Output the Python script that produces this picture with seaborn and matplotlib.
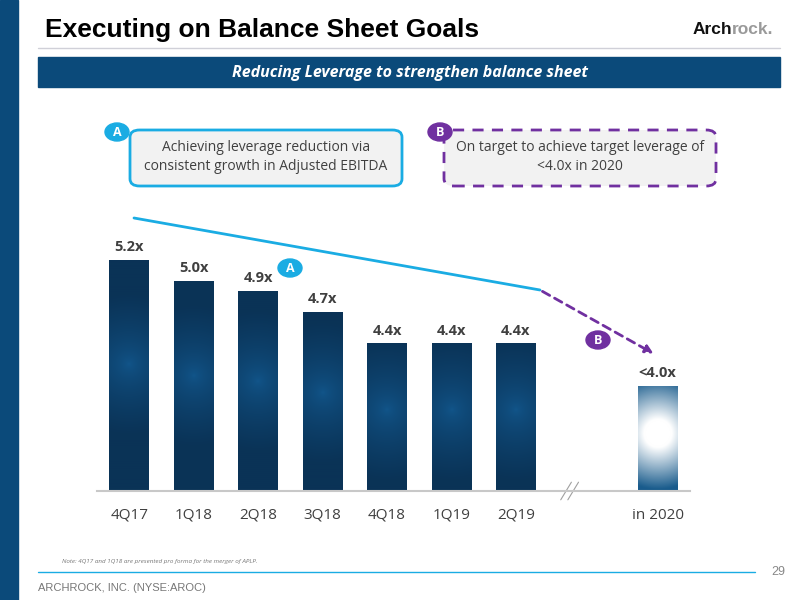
import numpy as np
import pandas as pd
import matplotlib
matplotlib.use("Agg")
import matplotlib.pyplot as plt
import seaborn as sns
from matplotlib.patches import FancyBboxPatch, Rectangle, Circle

periods = ["4Q17", "1Q18", "2Q18", "3Q18", "4Q18", "1Q19", "2Q19", "in 2020"]
leverage = [5.2, 5.0, 4.9, 4.7, 4.4, 4.4, 4.4, 4.0]
value_labels = ["5.2x", "5.0x", "4.9x", "4.7x", "4.4x", "4.4x", "4.4x", "<4.0x"]
slot = [0, 1, 2, 3, 4, 5, 6, 8.2]   # gap before the 2020 target

NAVY = "#0B4A7A"
CYAN = "#1AACE3"
PURPLE = "#7030A0"
GREY = "#404040"
Y0, Y1 = 3.0, 5.8
AX_H = 294  # axes height in px

sns.set_theme(style="white")
plt.rcParams["font.family"] = ["Open Sans", "DejaVu Sans"]

fig = plt.figure(figsize=(8, 6), dpi=100)


def px(x, y):
    return x / 800, 1 - y / 600


# slide furniture
fig.patches.append(Rectangle(px(0, 600), 18 / 800, 1, transform=fig.transFigure, color=NAVY))
fig.text(*px(45, 30), "Executing on Balance Sheet Goals", family="Liberation Sans",
         weight="bold", size=19, va="center", color="black")
fig.text(*px(732, 29), "Arch", family="Liberation Sans", weight="bold", size=12.5,
         ha="right", va="center", color="#111111")
fig.text(*px(732, 29), "rock.", family="Liberation Sans", weight="bold", size=12.5,
         ha="left", va="center", color="#9A9A9A")
fig.lines.append(plt.Line2D([38 / 800, 780 / 800], [1 - 48 / 600] * 2,
                            transform=fig.transFigure, color="#D0D0D8", lw=1))
fig.patches.append(Rectangle(px(38, 87), 742 / 800, 30 / 600, transform=fig.transFigure, color=NAVY))
fig.text(*px(410, 73), "Reducing Leverage to strengthen balance sheet", color="white",
         style="italic", weight="bold", size=11.5, ha="center", va="center")

# callout boxes
fig.patches.append(FancyBboxPatch(px(130, 186), 272 / 800, 56 / 600, transform=fig.transFigure,
                                  boxstyle="round,pad=0,rounding_size=0.012", fc="#F2F2F2",
                                  ec=CYAN, lw=2))
fig.text(*px(266, 157), "Achieving leverage reduction via\nconsistent growth in Adjusted EBITDA",
         ha="center", va="center", size=10, color=GREY, linespacing=1.4)
fig.patches.append(FancyBboxPatch(px(444, 186), 272 / 800, 56 / 600, transform=fig.transFigure,
                                  boxstyle="round,pad=0,rounding_size=0.012", fc="#F2F2F2",
                                  ec=PURPLE, lw=2, ls=(0, (4, 3))))
fig.text(*px(580, 157), "On target to achieve target leverage of\n<4.0x in 2020",
         ha="center", va="center", size=10, color=GREY, linespacing=1.4)


def badge(x, y, letter, color):
    fig.patches.append(Circle(px(x, y), 12 / 800, transform=fig.transFigure, color=color, zorder=5))
    fig.text(*px(x, y), letter, color="white", size=9, weight="bold", ha="center", va="center", zorder=6)


badge(117, 132, "A", CYAN)
badge(440, 132, "B", PURPLE)

# bar chart
ax = fig.add_axes([97 / 800, 1 - 491 / 600, 593 / 800, AX_H / 600])
df = pd.DataFrame({"slot": slot, "leverage": leverage})
sns.barplot(data=df, x="slot", y="leverage", native_scale=True, width=0.62,
            color="#0A3456", saturation=1, ax=ax)
ax.set_xticks(slot)
ax.set_xticklabels(periods, size=11, color=GREY)
ax.set_yticks([])
ax.set_xlabel("")
ax.set_ylabel("")
for s in ["top", "left", "right"]:
    ax.spines[s].set_visible(False)
ax.spines["bottom"].set_color("#C8C8C8")
ax.spines["bottom"].set_linewidth(1.5)
ax.tick_params(axis="x", length=0, pad=12)

# circular radial glow inside each bar (in pixel space)
dark = np.array([0.07, 0.34, 0.55])
edge = np.array([0.04, 0.20, 0.34])
white = np.array([1.0, 1.0, 1.0])
blue = np.array([0.10, 0.36, 0.55])
for i, patch in enumerate(ax.patches):
    x0, w = patch.get_x(), patch.get_width()
    top = patch.get_y() + patch.get_height()
    h_px = (top - Y0) / (Y1 - Y0) * AX_H
    w_px = 40.0
    yy, xx = np.mgrid[0:h_px:300j, -w_px / 2:w_px / 2:80j]
    cy = h_px * 0.45  # glow centre, measured from top
    d = np.sqrt(xx ** 2 + (yy - cy) ** 2)
    if i < 7:
        t = np.clip(d / 70, 0, 1)[..., None] ** 0.6
        img = dark * (1 - t) + edge * t
    else:
        t = np.clip((d - 14) / 42, 0, 1)[..., None]
        img = white * (1 - t) + blue * t
    ax.imshow(img, extent=[x0, x0 + w, Y0, top], aspect="auto", origin="upper",
              clip_path=patch, zorder=2, interpolation="bicubic")
    ax.text(x0 + w / 2, top + 0.06, value_labels[i], ha="center", va="bottom",
            size=10.5, weight="bold", color=GREY)
ax.set_xlim(-0.5, 8.7)
ax.set_ylim(Y0, Y1)

# axis break marks
for dx in (0, 0.012):
    ax.plot([0.782 + dx, 0.800 + dx], [-0.03, 0.03], transform=ax.transAxes,
            color="#A0A0A0", lw=0.8, clip_on=False)

# trend arrows
fig.lines.append(plt.Line2D([134 / 800, 540 / 800], [1 - 218 / 600, 1 - 290 / 600],
                            transform=fig.transFigure, color=CYAN, lw=2))
ax.annotate("", xy=px(656, 355), xytext=px(540, 290), xycoords="figure fraction",
            textcoords="figure fraction",
            arrowprops=dict(arrowstyle="-|>", color=PURPLE, lw=2, ls=(0, (3, 2)),
                            mutation_scale=12))
badge(290, 268, "A", CYAN)
badge(598, 340, "B", PURPLE)

# footer
fig.text(*px(62, 562), "Note: 4Q17 and 1Q18 are presented pro forma for the merger of APLP.",
         style="italic", size=4.5, color="#777777", va="center")
fig.lines.append(plt.Line2D([38 / 800, 755 / 800], [1 - 572 / 600] * 2,
                            transform=fig.transFigure, color=CYAN, lw=1))
fig.text(*px(778, 572), "29", size=9, color="#888888", ha="center", va="center",
         family="Liberation Sans")
fig.text(*px(38, 588), "ARCHROCK, INC. (NYSE:AROC)", size=8, color="#777777", va="center",
         family="Liberation Sans")

fig.savefig("out.png", dpi=100)
